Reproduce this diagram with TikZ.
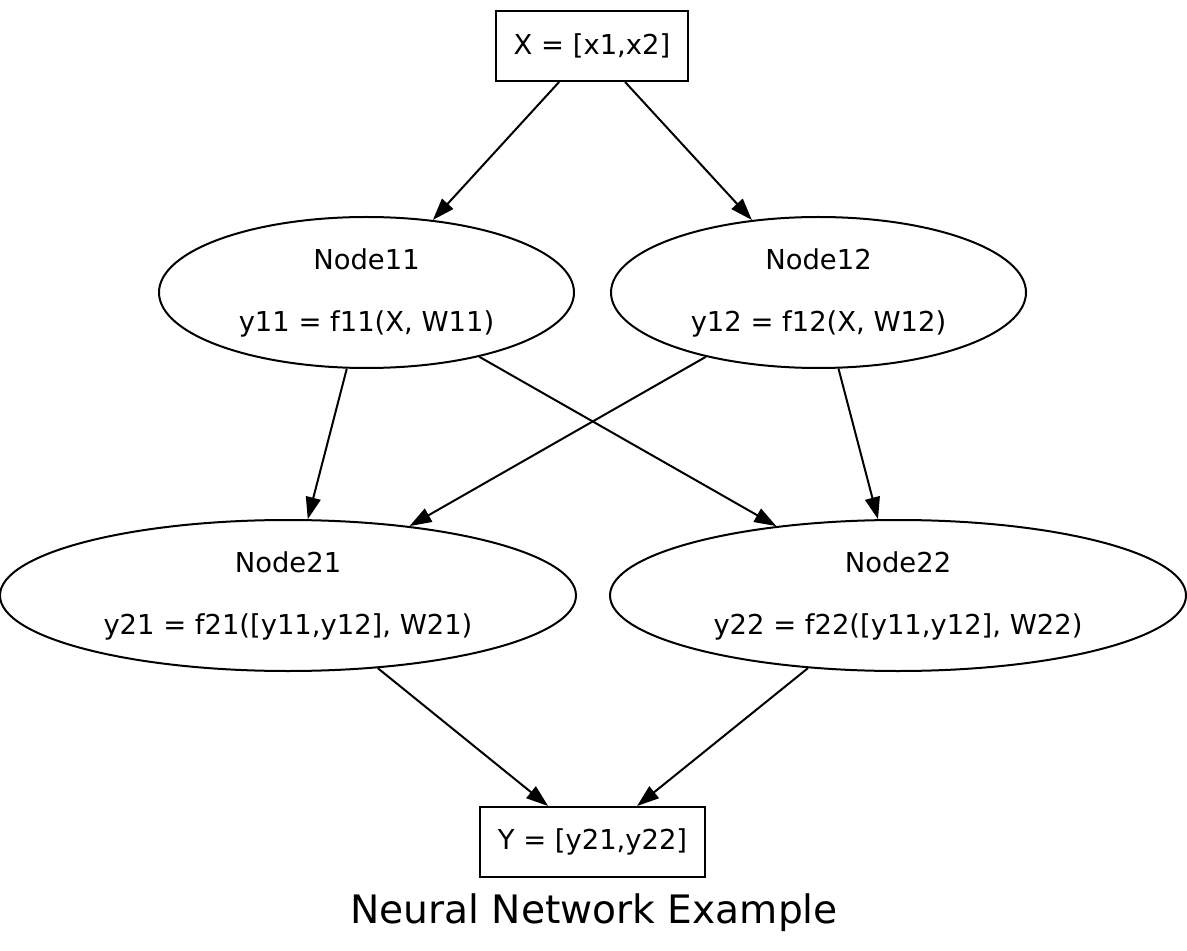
\documentclass[tikz,border=0pt]{standalone}
\usepackage{fontspec}
\setmainfont{DejaVu Sans}
\usetikzlibrary{
  arrows.meta,
  positioning,
  shapes.geometric
}

\begin{document}
\begin{tikzpicture}[
  x=0.5pt, y=-0.5pt,
  box/.style={draw, line width=1pt, inner sep=0pt, minimum height=35pt,
              font=\fontsize{13.7}{16}\selectfont},
  neuron/.style={draw, ellipse, line width=1pt, inner sep=0pt,
                 minimum height=75.5pt, align=center,
                 font=\fontsize{13.7}{15.5}\selectfont},
  arr/.style={-{Triangle[length=11pt, width=7.5pt]}, line width=1pt}
]
\useasboundingbox (0,0) rectangle (1187,951);

\node[box, minimum width=96pt] (X) at (592,46) {X = [x1,x2]};
\node[neuron, minimum width=207.5pt] (n11) at (366.5,292.5) {Node11\\[15.5pt]y11 = f11(X, W11)};
\node[neuron, minimum width=207.5pt] (n12) at (818.5,292.5) {Node12\\[15.5pt]y12 = f12(X, W12)};
\node[neuron, minimum width=288pt] (n21) at (288,595.5) {Node21\\[15.5pt]y21 = f21([y11,y12], W21)};
\node[neuron, minimum width=288pt] (n22) at (898,595.5) {Node22\\[15.5pt]y22 = f22([y11,y12], W22)};
\node[box, minimum width=112.5pt] (Y) at (592.5,842) {Y = [y21,y22]};

\draw[arr] (X) -- (n11);
\draw[arr] (X) -- (n12);
\draw[arr] (n11) -- (n21);
\draw[arr] (n11) -- (n22);
\draw[arr] (n12) -- (n21);
\draw[arr] (n12) -- (n22);
\draw[arr] (n21) -- (Y);
\draw[arr] (n22) -- (Y);

% Title
\node[font=\fontsize{19.6}{22}\selectfont] (title) at (594,913) {Neural Network Example};

\end{tikzpicture}
\end{document}
